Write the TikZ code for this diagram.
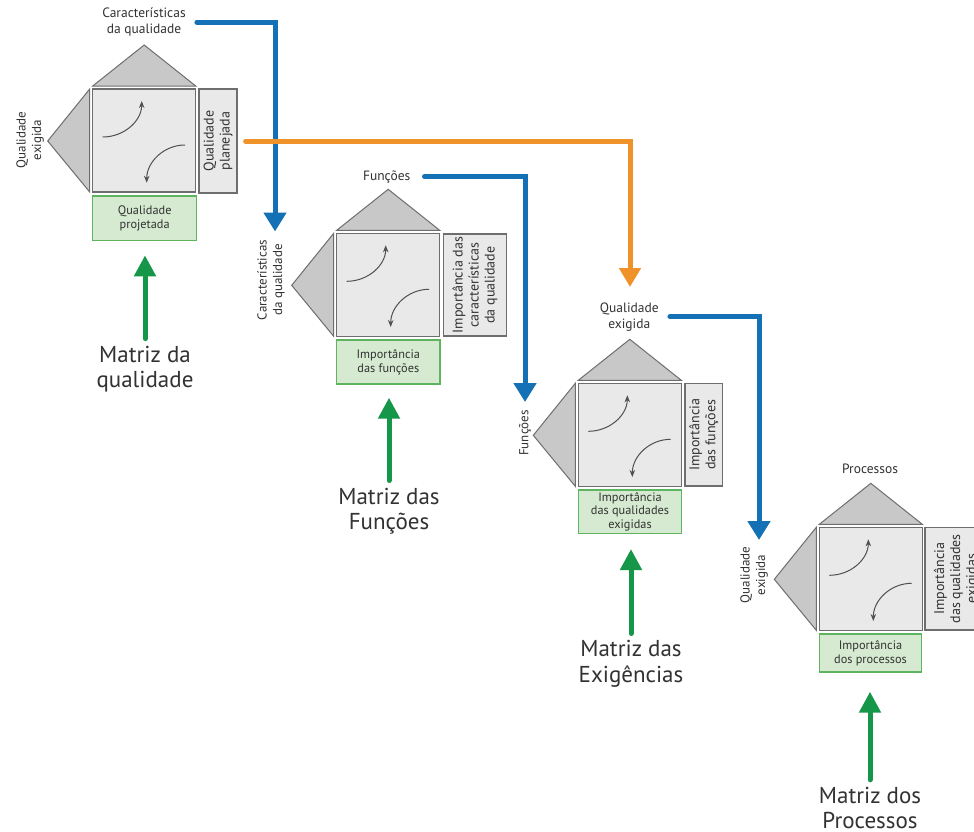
\documentclass[tikz,border=0pt]{standalone}
\usepackage{fontspec}
\setmainfont{PT Sans}
\usetikzlibrary{arrows.meta}
\definecolor{qblue}{RGB}{20,113,182}
\definecolor{qorange}{RGB}{240,146,42}
\definecolor{qgreen}{RGB}{22,150,72}
\definecolor{gfill}{RGB}{213,234,208}
\definecolor{gdraw}{RGB}{95,180,95}
\definecolor{sqfill}{RGB}{233,233,233}
\definecolor{trifill}{RGB}{200,200,200}
\definecolor{edgegray}{RGB}{110,110,110}
\definecolor{txt}{RGB}{50,50,50}
\definecolor{inner}{RGB}{80,80,80}
\newcommand\qfdcore[3]{%
  \begin{scope}[shift={(#2,#3)}]
    \node[sqbox] (#1sq) at (51.5,51.5) {};
    \path[tri] (0,-3) -- (103,-3) -- (51.5,-44) -- cycle;
    \path[tri] (-3,0) -- (-3,103) -- (-45,52) -- cycle;
    \draw[inarr] (10,48) .. controls (31.5,48) and (49,31.8) .. (49,12);
    \draw[inarr] (92.3,56) .. controls (71.2,56) and (54,73) .. (54,93.7);
  \end{scope}}
\begin{document}
\begin{tikzpicture}[x=1pt,y=-1pt,
  sqbox/.style={draw=edgegray, fill=sqfill, line width=1.3pt, minimum width=103pt, minimum height=103pt, inner sep=0pt},
  tri/.style={draw=edgegray, fill=trifill, line width=1pt, line join=miter},
  sidebox/.style={draw=edgegray, fill=sqfill, line width=1.2pt, rotate=90, inner sep=0pt, align=center, font=\fontsize{14}{16}\selectfont, text=txt},
  greenbox/.style={draw=gdraw, fill=gfill, line width=1.4pt, inner sep=0pt, align=center, font=\fontsize{12.3}{13.8}\selectfont, text=txt},
  toplab/.style={align=center, font=\fontsize{13.5}{16}\selectfont, text=txt, inner sep=2pt},
  leftlab/.style={rotate=90, align=center, font=\fontsize{13}{15.5}\selectfont, text=txt, inner sep=2pt},
  matlab/.style={align=center, font=\fontsize{23}{25.5}\selectfont, text=txt, inner sep=2pt},
  inarr/.style={draw=inner, line width=1pt, -{Stealth[length=7pt,width=5.5pt]}},
  bluearr/.style={draw=qblue, line width=5pt, line cap=round, -{Triangle[length=19pt,width=22pt]}},
  orangearr/.style={draw=qorange, line width=5pt, line cap=round, -{Triangle[length=19pt,width=21pt]}},
  greenarr/.style={draw=qgreen, line width=5pt, line cap=round, -{Triangle[length=21pt,width=21pt]}}
]
\useasboundingbox (0,0) rectangle (974,831);
\fill[white] (0,0) rectangle (974,831);
\clip (0,0) rectangle (974,831);

% cores
\qfdcore{u1}{92.7}{89}
\qfdcore{u2}{336.7}{233.3}
\qfdcore{u3}{578.3}{383.3}
\qfdcore{u4}{819.3}{527.3}

% top labels
\node[toplab] (u1top) at (144,22) {Características\\da qualidade};
\node[toplab] (u2top) at (386.7,176.7) {Funções};
\node[toplab] (u3top) at (629.3,316.7) {Qualidade\\exigida};
\node[toplab] (u4top) at (870,468.3) {Processos};

% left labels
\node[leftlab] (u1left) at (30,140) {Qualidade\\exigida};
\node[leftlab] (u2left) at (271,280) {Características\\da qualidade};
\node[leftlab] (u3left) at (525,433) {Funções};
\node[leftlab] (u4left) at (754,575) {Qualidade\\exigida};

% right boxes
\node[sidebox, minimum width=104, minimum height=38] (u1r) at (218,141) {Qualidade\\planejada};
\node[sidebox, minimum width=102, minimum height=63.4] (u2r) at (475,285) {Importância das\\características\\da qualidade};
\node[sidebox, minimum width=102.7, minimum height=37.7] (u3r) at (703.8,434.7) {Importância\\das funções};
\node[sidebox, minimum width=102.7, minimum height=63] (u4r) at (956.5,578.7) {Importância\\das qualidades\\exigidas};

% green boxes
\node[greenbox, minimum width=104, minimum height=44.7] (u1g) at (144.7,218.3) {Qualidade\\projetada};
\node[greenbox, minimum width=103.3, minimum height=44] (u2g) at (388.3,362) {Importância\\das funções};
\node[greenbox, minimum width=103.4, minimum height=43.3] (u3g) at (630,511.7) {Importância\\das qualidades\\exigidas};
\node[greenbox, minimum width=102.4, minimum height=38] (u4g) at (870.5,653) {Importância\\dos processos};

% matrix names
\node[matlab] (m1) at (145,369) {Matriz da\\qualidade};
\node[matlab] (m2) at (389,511) {Matriz das\\Funções};
\node[matlab] (m3) at (631,664) {Matriz das\\Exigências};
\node[matlab] (m4) at (870,808) {Matriz dos\\Processos};

% green arrows
\draw[greenarr, shorten <=5pt, shorten >=14pt] (m1.north) -- (m1.north |- u1g.south);
\draw[greenarr, shorten <=5pt, shorten >=13pt] (m2.north) -- (m2.north |- u2g.south);
\draw[greenarr, shorten <=5pt, shorten >=15pt] (m3.north) -- (m3.north |- u3g.south);
\draw[greenarr, shorten <=5pt, shorten >=19pt] (m4.north) -- (m4.north |- u4g.south);

% flow connectors
\coordinate (b1tip) at (275,231.5);
\coordinate (otip) at (630,287);
\coordinate (b2tip) at (525,402);
\coordinate (b3tip) at (759,540);
\draw[bluearr, shorten <=9pt] (u1top.east) -| (b1tip);
\draw[orangearr, shorten <=8pt] (u1r.south) -| (otip);
\draw[bluearr, shorten <=12pt] (u2top.east) -| (b2tip);
\draw[bluearr, shorten <=9pt] (u3top.east) -| (b3tip);
\end{tikzpicture}
\end{document}
